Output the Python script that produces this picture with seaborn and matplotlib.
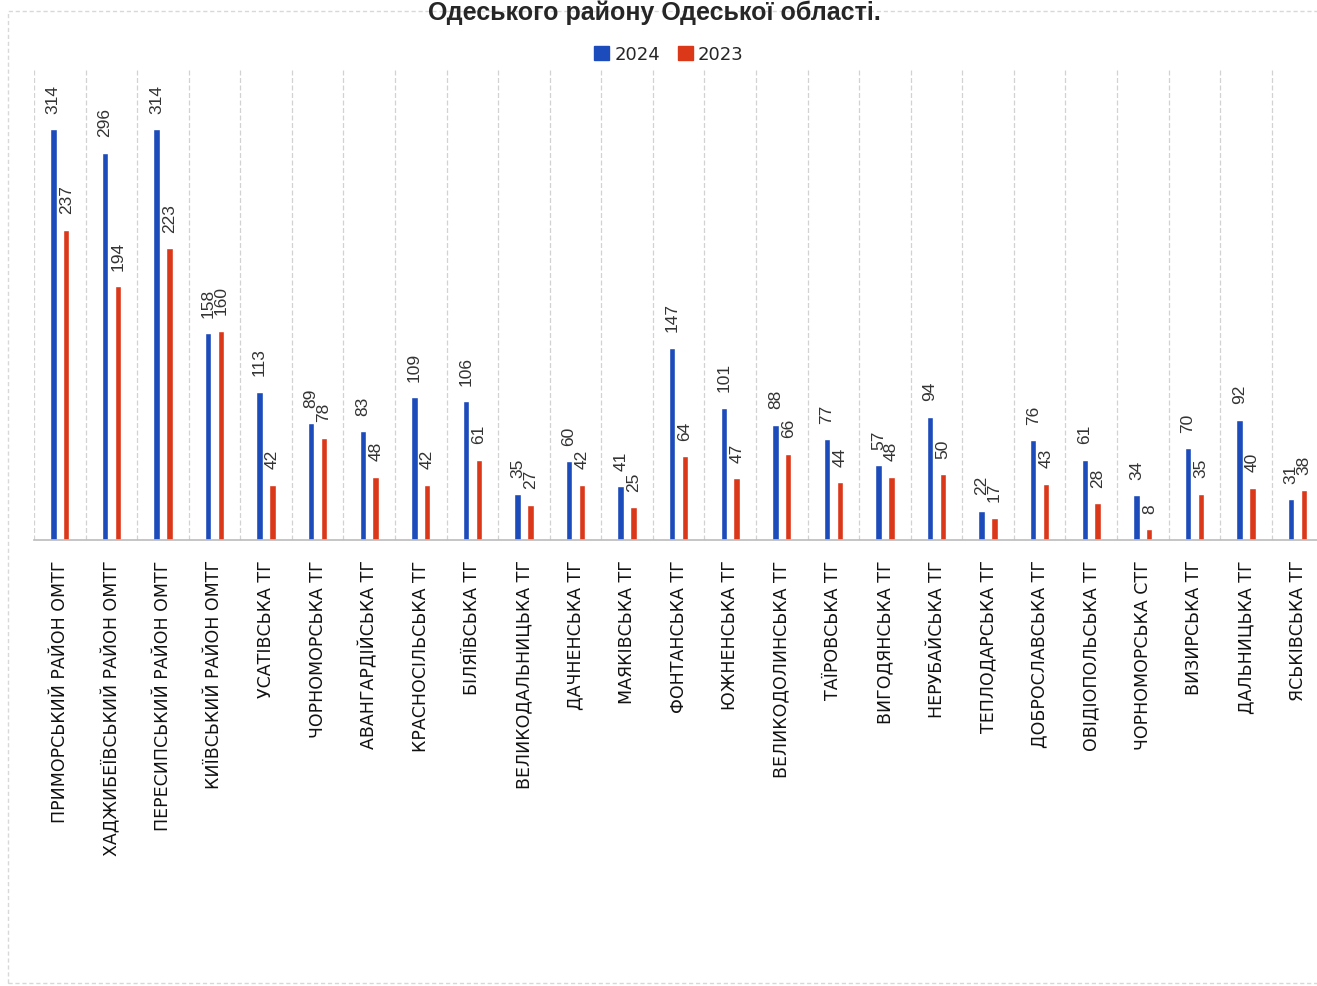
import matplotlib
matplotlib.use("Agg")
import matplotlib.pyplot as plt
import matplotlib.patches as mpatches
import seaborn as sns
import pandas as pd
import numpy as np

categories = [
    "ПРИМОРСЬКИЙ РАЙОН ОМТГ", "ХАДЖИБЕЇВСЬКИЙ РАЙОН ОМТГ", "ПЕРЕСИПСЬКИЙ РАЙОН ОМТГ",
    "КИЇВСЬКИЙ РАЙОН ОМТГ", "УСАТІВСЬКА ТГ", "ЧОРНОМОРСЬКА ТГ", "АВАНГАРДІЙСЬКА ТГ",
    "КРАСНОСІЛЬСЬКА ТГ", "БІЛЯЇВСЬКА ТГ", "ВЕЛИКОДАЛЬНИЦЬКА ТГ", "ДАЧНЕНСЬКА ТГ",
    "МАЯКІВСЬКА ТГ", "ФОНТАНСЬКА ТГ", "ЮЖНЕНСЬКА ТГ", "ВЕЛИКОДОЛИНСЬКА ТГ",
    "ТАЇРОВСЬКА ТГ", "ВИГОДЯНСЬКА ТГ", "НЕРУБАЙСЬКА ТГ", "ТЕПЛОДАРСЬКА ТГ",
    "ДОБРОСЛАВСЬКА ТГ", "ОВІДІОПОЛЬСЬКА ТГ", "ЧОРНОМОРСЬКА СТГ", "ВИЗИРСЬКА ТГ",
    "ДАЛЬНИЦЬКА ТГ", "ЯСЬКІВСЬКА ТГ",
]
values_2024 = [314, 296, 314, 158, 113, 89, 83, 109, 106, 35, 60, 41, 147, 101, 88,
               77, 57, 94, 22, 76, 61, 34, 70, 92, 31]
values_2023 = [237, 194, 223, 160, 42, 78, 48, 42, 61, 27, 42, 25, 64, 47, 66,
               44, 48, 50, 17, 43, 28, 8, 35, 40, 38]
series = ["2024", "2023"]
title = "Одеського району Одеської області."

colors = {"2024": "#1c4bbb", "2023": "#db3719"}

df = pd.DataFrame({
    "cat": categories * 2,
    "year": [series[0]] * len(categories) + [series[1]] * len(categories),
    "value": values_2024 + values_2023,
})

sns.set_theme(style="white")
plt.rcParams["font.family"] = ["DejaVu Sans"]

fig = plt.figure(figsize=(13.17, 9.87), dpi=100)
ax = fig.add_axes([0.0258, 0.452, 0.979, 0.477])

sns.barplot(data=df, x="cat", y="value", hue="year", order=categories,
            hue_order=series, palette=colors, width=0.5, gap=0.5,
            saturation=1, ax=ax, legend=False)

for cont in ax.containers:
    ax.bar_label(cont, rotation=90, padding=12, fontsize=12.5,
                 family="Liberation Sans", color="#333333")

ax.set_ylim(0, 360)
ax.set_xlim(-0.5, len(categories) - 0.5)
ax.set_xlabel("")
ax.set_ylabel("")
ax.set_yticks([])
ax.set_xticks(range(len(categories)))
ax.set_xticklabels(categories, rotation=90, fontsize=12.5, color="#111111")
ax.tick_params(axis="x", length=0, pad=14)
ax.set_xticks(np.arange(-0.5, len(categories), 1.0), minor=True)
ax.tick_params(axis="x", which="minor", length=0)
ax.grid(True, axis="x", which="minor", color="#d2d2d2", linestyle=(0, (4, 2)), linewidth=0.9)
ax.grid(False, axis="x", which="major")
ax.grid(False, axis="y")
for s in ["top", "right", "left"]:
    ax.spines[s].set_visible(False)
ax.spines["bottom"].set_color("#bbbbbb")
ax.spines["bottom"].set_linewidth(1.2)

handles = [mpatches.Patch(color=colors[s], label=s) for s in series]
fig.legend(handles=handles, loc="center", bbox_to_anchor=(0.508, 0.944), ncol=2,
           frameon=False, fontsize=13, handlelength=0.8, handleheight=0.8,
           handletextpad=0.3, columnspacing=1.0)

fig.text(0.497, 0.999, title, ha="center", va="top", fontsize=18,
         fontweight="bold", family="Liberation Sans")

border = mpatches.Rectangle((0.006, 0.003), 1.2, 0.985, transform=fig.transFigure,
                            fill=False, edgecolor="#d8d8d8", linewidth=1.0,
                            linestyle=(0, (3, 2)))
fig.patches.append(border)

fig.savefig("out.png", dpi=100)
